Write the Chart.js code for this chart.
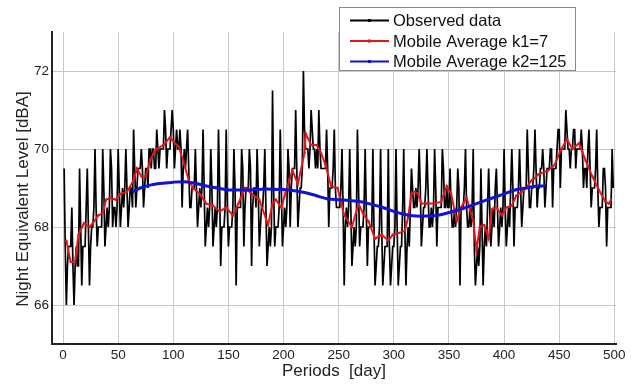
<!DOCTYPE html>
<html>
<head>
<meta charset="utf-8">
<script src="https://cdn.jsdelivr.net/npm/chart.js@4.4.0/dist/chart.umd.min.js"></script>
<style>
  body { margin: 0; background: #fff; }
  canvas { display: block; }
</style>
</head>
<body>
<canvas id="noise" width="638" height="387"></canvas>
<script>
// daily observed night level, day 1..499 (two weeks per row)
const obsValues = [
  69.5,67.5,66,67,67.5,67.5,67.5, 68.5,67,66,67,67.5,67,67,
  69.5,68,66.5,67.5,67.5,67.5,68.5, 69.5,68,66.5,67.5,68,68,68.5,
  70,68.5,67.5,68,68,68,68, 70,69,67.5,68,68.5,68,68.5,
  70,69.5,68,68.5,68.5,68,68.5, 70,69,68,68.5,69,68.5,69,
  70,69,68,68.5,69,69,68.5, 70.5,69.5,68.5,69,69.5,69.5,69.5,
  70,69.5,68.5,69,69.5,69.5,69, 70,70,69.5,70,70,69.5,69.5,
  70.5,70,69.5,70,70,70,70, 71,70.5,69.5,70,70,70,70.5,
  71,70.5,69.5,70,70.5,70,70, 70.5,70,68.5,69.5,70,69.5,70,
  70.5,69.5,68.5,68.5,69,69,69, 70,69,68,68.5,69,68.5,69,
  70.5,69,67.5,68,68.5,68,68.5, 70,69,67.5,68,68.5,68,68.5,
  70.5,69,67,68,68,68,68.5, 70.5,68.5,67.5,68,68,68,68.5,
  70,69,66.5,68.5,68.5,68.5,68.5, 70,69.5,67.5,68.5,69,69,69,
  70,69.5,67,68.5,69,69,68.5, 70,69,67.5,68,68.5,68.5,69,
  70,68.5,67,67.5,68,67.5,68, 71.5,69,67.5,68,68,68,68.5,
  70.5,69,67.5,68,68.5,68,68.5, 70,69.5,68,69,69.5,69.5,69.5,
  71,69.5,68,68.5,69,69,69.5, 72,70.5,70,70,70,69.5,70,
  71,70.5,70,70,69.5,70,69.5, 71,70,69.5,69.5,69.5,69.5,69.5,
  70.5,69.5,68,69,69,69,69.5, 70.5,69,68.5,68.5,68.5,68.5,69,
  70,68.5,66.5,68,68.5,68,68.5, 70,68.5,67,67.5,68,67.5,68,
  70.5,69,67.5,68,68,68,68.5, 70,68.5,67,68,68,68,68,
  70,68,66.5,67,67.5,67.5,68, 70,68,66.5,67,67.5,67.5,67.5,
  70,67.5,66.5,67,67.5,67.5,68, 70,68,66.5,67,67.5,67.5,68.5,
  70,68,66.5,67.5,68,67.5,68.5, 69.5,69,68.5,68.5,69,68.5,69,
  70,69,67.5,68,68.5,68.5,69, 70,69,68,68,68.5,68,68.5,
  70,69,67.5,68.5,68.5,68.5,68.5, 70,69.5,68.5,68.5,69,68.5,68.5,
  69.5,68.5,68,68,68.5,68,68.5, 69.5,69,66.5,68.5,68.5,68.5,69,
  70,68.5,68,68,68.5,68,68.5, 70,67.5,66.5,67,67.5,67,67.5,
  69.5,68,66.5,67.5,68,67.5,68.5, 69.5,68.5,67.5,68,68.5,68,69,
  69.5,68.5,67.5,68,68.5,68,68.5, 70,68.5,67.5,68,68.5,68,69,
  70,69,67.5,68.5,68.5,68.5,69, 70,69,68,68.5,69,69,69,
  70.5,69.5,68.5,68.5,69,69,69.5, 70.5,69.5,68.5,69,69,69.5,69.5,
  70,69.5,68.5,69,69.5,69.5,69.5, 70,70,68.5,69.5,69.5,69.5,70,
  70.5,70.5,69,70,70,70,70, 71,70.5,70,70,69.5,70,70,
  70.5,70.5,69.5,70,70,70,70, 70.5,70,69,69.5,69.5,69,70,
  70.5,69.5,68.5,69,69,69,69.5, 70.5,69,68,68.5,68.5,68.5,69.5,
  69.5,69,67.5,68.5,68.5,68.5,68.5, 70,69
];

// 7 day moving average (red)
const redDays = [3,7,11,14,19,24,27,32,36,39,43,48,52,58,64,67,71,75,79,83,85,91,97,100,105,109,114,118,124,130,
  136,142,148,154,159,165,171,178,186,190,193,198,202,208,213,219,220,225,230,234,238,243,249,255,262,268,272,277,283,289,
  295,299,305,310,313,316,319,322,325,330,337,343,348,352,357,361,366,369,372,375,378,382,386,389,393,398,402,407,411,416,
  420,425,428,431,440,446,451,457,462,468,474,480,486,492,495,497];
const redValues = [67.65,67.1,67.1,67.8,68.1,68.0,68.1,68.3,68.35,68.7,68.75,68.7,68.85,68.9,69.2,69.5,69.3,69.3,69.7,69.95,70.0,70.1,70.3,70.2,70.05,69.7,69.2,69.0,68.85,68.6,
  68.55,68.4,68.5,68.3,68.6,69.0,68.85,68.7,68.05,68.6,68.7,68.5,68.9,69.45,69.1,69.9,70.4,70.1,70.1,69.9,69.6,69.05,69.0,68.3,68.0,68.6,68.35,68.15,67.7,67.8,
  67.65,67.8,67.85,67.9,68.25,68.85,68.9,68.85,68.6,68.6,68.6,68.65,69.05,68.85,68.15,68.5,68.75,68.45,68.15,67.4,68.0,68.05,67.7,68.45,68.5,68.3,68.5,68.55,68.8,68.9,
  69.0,69.2,69.25,69.35,69.45,69.6,69.95,70.25,70.0,70.15,69.7,69.3,68.95,68.65,68.6,68.7];

// 125 day moving average (blue)
const blueDays = [63,70,80,90,100,110,120,130,140,150,160,170,180,190,200,210,220,230,240,250,
  260,270,280,290,300,310,320,330,340,350,360,370,380,390,400,410,420,430,437];
const blueValues = [68.9,69.0,69.08,69.12,69.15,69.16,69.12,69.05,69.0,68.95,68.95,68.95,68.97,68.97,68.96,68.93,68.88,68.8,68.72,68.7,
  68.68,68.65,68.58,68.5,68.4,68.32,68.28,68.28,68.3,68.37,68.45,68.55,68.65,68.75,68.85,68.95,69.0,69.05,69.05];

const xTicks = [0,50,100,150,200,250,300,350,400,450,500];
const yTicks = [66,68,70,72];

const obsDays = obsValues.map((v, i) => i + 1);
const toXY = (xs, ys) => xs.map((x, i) => ({x: x, y: ys[i]}));

const FONT = 'Liberation Sans';

// legend box sits over the top of the plot
const legendBox = {
  id: 'legendBox',
  afterDraw(chart) {
    const c = chart.ctx;
    const x0 = 339, y0 = 7, w = 236, h = 63;
    c.save();
    c.fillStyle = '#fff';
    c.fillRect(x0, y0, w, h);
    c.strokeStyle = '#8a8a8a';
    c.lineWidth = 1;
    c.strokeRect(x0 + 0.5, y0 + 0.5, w, h);
    c.font = '16.5px "' + FONT + '"';
    c.textBaseline = 'middle';
    chart.data.datasets.forEach((ds, i) => {
      const y = y0 + 13.5 + i * 20.5;
      c.strokeStyle = ds.borderColor;
      c.lineWidth = 2;
      c.beginPath();
      c.moveTo(x0 + 11, y);
      c.lineTo(x0 + 50, y);
      c.stroke();
      c.fillStyle = ds.borderColor;
      c.fillRect(x0 + 29, y - 1.5, 3, 3);
      c.fillStyle = '#111';
      c.fillText(ds.label, x0 + 54, y + 1);
    });
    c.restore();
  }
};

// y title, drawn a bit below the axis centre like the original
const yTitle = {
  id: 'yTitle',
  afterDraw(chart) {
    const c = chart.ctx;
    c.save();
    c.translate(23, 199);
    c.rotate(-Math.PI / 2);
    c.font = '17px "' + FONT + '"';
    c.fillStyle = '#222';
    c.textAlign = 'center';
    c.textBaseline = 'middle';
    c.fillText('Night Equivalent Level [dBA]', 0, 0);
    c.restore();
  }
};

const noiseChart = new Chart(document.getElementById('noise').getContext('2d'), {
  type: 'line',
  data: {
    datasets: [{
      label: 'Observed data',
      data: toXY(obsDays, obsValues),
      borderColor: '#000000',
      borderWidth: 1.7,
      pointRadius: 0,
      tension: 0,
      order: 3
    }, {
      label: 'Mobile Average k1=7',
      data: toXY(redDays, redValues),
      borderColor: '#e8141c',
      backgroundColor: '#e8141c',
      borderWidth: 2,
      pointRadius: 1.2,
      pointBorderWidth: 0,
      tension: 0,
      order: 2
    }, {
      label: 'Mobile Average k2=125',
      data: toXY(blueDays, blueValues),
      borderColor: '#1212d6',
      borderWidth: 3,
      pointRadius: 0,
      tension: 0.3,
      order: 1
    }]
  },
  options: {
    responsive: false,
    animation: false,
    devicePixelRatio: 1,
    layout: { padding: { top: 32, right: 22, left: 0, bottom: 0 } },
    plugins: {
      legend: { display: false },
      tooltip: { enabled: false }
    },
    scales: {
      x: {
        type: 'linear',
        min: -10,
        max: 501.5,
        afterBuildTicks: s => { s.ticks = xTicks.map(v => ({value: v})); },
        afterFit: s => { s.height = 43; },
        grid: { color: '#c8c8c8', lineWidth: 1, drawTicks: false },
        border: { color: '#222', width: 2 },
        ticks: { padding: 3, color: '#222', maxRotation: 0, font: { family: FONT, size: 13.5 } },
        title: {
          display: true,
          text: 'Periods  [day]',
          color: '#222',
          font: { family: FONT, size: 17 },
          padding: { top: 0, bottom: 5 }
        }
      },
      y: {
        type: 'linear',
        min: 65,
        max: 73,
        afterBuildTicks: s => { s.ticks = yTicks.map(v => ({value: v})); },
        afterFit: s => { s.width = 52; },
        grid: { color: '#c8c8c8', lineWidth: 1, drawTicks: false },
        border: { color: '#222', width: 2 },
        ticks: { padding: 3, color: '#222', font: { family: FONT, size: 13.5 } }
      }
    }
  },
  plugins: [legendBox, yTitle]
});
</script>
</body>
</html>
